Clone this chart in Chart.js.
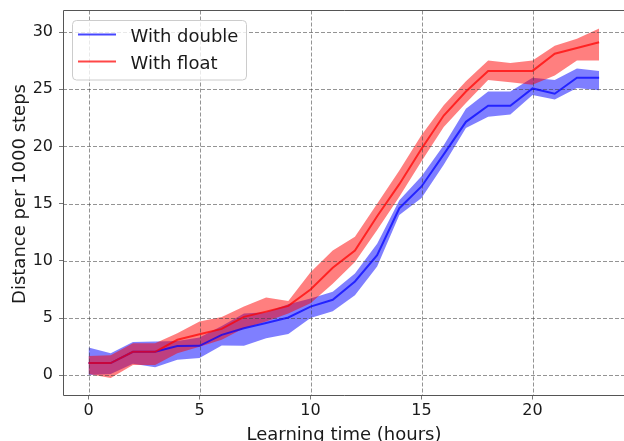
<!DOCTYPE html>
<html><head><meta charset="utf-8">
<script src="https://cdn.jsdelivr.net/npm/chart.js@4.4.0/dist/chart.umd.min.js"></script>
<style>html,body{margin:0;padding:0;background:#fff;overflow:hidden}canvas{display:block}</style>
</head><body>
<canvas id="c" width="624" height="441"></canvas>
<script>
const hours = [0,1,2,3,4,5,6,7,8,9,10,11,12,13,14,15,16,17,18,19,20,21,22,23];
const blueMean  = [1.06,1.06,2.05,2.05,2.55,2.57,3.53,4.1,4.57,5.05,6.0,6.6,8.2,10.5,14.6,16.5,19.3,22.15,23.55,23.55,25.07,24.6,26.0,26.0];
const blueUpper = [2.42,1.93,2.9,2.94,3.0,3.3,4.3,5.4,5.5,6.2,6.7,7.3,8.9,11.5,15.3,17.4,20.1,23.3,24.8,24.8,26.0,25.8,26.8,26.6];
const blueLower = [0.03,0.1,1.0,0.7,1.35,1.5,2.6,2.57,3.24,3.6,5.0,5.6,7.0,9.5,14.0,15.5,18.4,21.6,22.6,22.8,24.5,24.1,25.1,24.9];
const redMean   = [1.06,1.06,2.05,2.05,3.1,3.58,4.05,5.1,5.56,6.06,7.5,9.4,10.9,13.9,16.7,19.8,22.7,24.8,26.6,26.6,26.6,28.1,28.6,29.1];
const redUpper  = [1.69,1.75,2.8,2.8,3.67,4.7,5.1,6.0,6.8,6.5,9.0,10.9,12.1,15.0,17.9,21.0,23.6,25.7,27.5,27.3,27.5,28.8,29.4,30.3];
const redLower  = [0.12,-0.25,0.9,0.9,1.93,2.5,3.1,4.1,4.7,5.4,6.3,8.0,9.9,12.7,15.6,18.7,21.7,23.8,25.8,25.6,25.4,26.2,27.5,27.5];
const xTicks = [0,5,10,15,20];
const yTicks = [0,5,10,15,20,25,30];
const seriesNames = ['With double','With float'];
const xTitle = 'Learning time (hours)';
const yTitle = 'Distance per 1000 steps';

const FONT = "'DejaVu Sans', sans-serif";
const TEXT = '#1a1a1a';
const BLUE_LINE = 'rgba(0,0,255,0.72)';
const RED_LINE = 'rgba(255,0,0,0.72)';
const BLUE_FILL = 'rgba(0,0,255,0.5)';
const RED_FILL = 'rgba(255,0,0,0.5)';
const pts = arr => arr.map((v,i)=>({x:hours[i], y:v}));

const band = (data, fill, color, order) => ({data: pts(data), fill, backgroundColor: color, borderWidth: 0, pointRadius: 0, tension: 0, order});
const line = (data, color, order) => ({data: pts(data), fill: false, borderColor: color, borderWidth: 2, pointRadius: 0, tension: 0, order});

const gridOverFills = {
  id: 'gridOverFills',
  afterDatasetDraw(chart, args) {
    if (args.index !== 4) return;
    const {ctx, chartArea: a, scales: {x, y}} = chart;
    ctx.save();
    ctx.beginPath(); ctx.rect(a.left, a.top, a.right - a.left, a.bottom - a.top); ctx.clip();
    ctx.strokeStyle = 'rgba(60,60,60,0.55)'; ctx.lineWidth = 1; ctx.setLineDash([4, 2]);
    xTicks.forEach(v => { const p = Math.round(x.getPixelForValue(v)) + 0.5; ctx.beginPath(); ctx.moveTo(p, a.top); ctx.lineTo(p, a.bottom); ctx.stroke(); });
    yTicks.forEach(v => { const p = Math.round(y.getPixelForValue(v)) + 0.5; ctx.beginPath(); ctx.moveTo(a.left, p); ctx.lineTo(a.right, p); ctx.stroke(); });
    ctx.restore();
  }
};

const frameAndLegend = {
  id: 'frameAndLegend',
  afterDraw(chart) {
    const {ctx, chartArea: a} = chart;
    ctx.save();
    ctx.strokeStyle = '#555'; ctx.lineWidth = 1; ctx.setLineDash([]);
    ctx.beginPath();
    ctx.moveTo(a.right + 1, a.top); ctx.lineTo(a.left + 0.5, a.top); ctx.lineTo(a.left + 0.5, a.bottom); ctx.lineTo(a.right + 1, a.bottom);
    ctx.stroke();
    ctx.fillStyle = TEXT; ctx.font = '18px ' + FONT; ctx.textAlign = 'center'; ctx.textBaseline = 'alphabetic';
    ctx.fillText(xTitle, (a.left + 625) / 2, 440);
    ctx.save(); ctx.translate(24.5, 194); ctx.rotate(-Math.PI / 2); ctx.fillText(yTitle, 0, 0); ctx.restore();
    const bx = 72.5, by = 20.5, bw = 174, bh = 59.5, r = 4;
    ctx.beginPath();
    ctx.moveTo(bx + r, by); ctx.lineTo(bx + bw - r, by); ctx.arcTo(bx + bw, by, bx + bw, by + r, r);
    ctx.lineTo(bx + bw, by + bh - r); ctx.arcTo(bx + bw, by + bh, bx + bw - r, by + bh, r);
    ctx.lineTo(bx + r, by + bh); ctx.arcTo(bx, by + bh, bx, by + bh - r, r);
    ctx.lineTo(bx, by + r); ctx.arcTo(bx, by, bx + r, by, r); ctx.closePath();
    ctx.fillStyle = 'rgba(255,255,255,0.8)'; ctx.fill();
    ctx.strokeStyle = '#cccccc'; ctx.stroke();
    const items = [[seriesNames[0], BLUE_LINE, 34.5], [seriesNames[1], RED_LINE, 61.5]];
    items.forEach(([label, col, yy]) => {
      ctx.strokeStyle = col; ctx.lineWidth = 2;
      ctx.beginPath(); ctx.moveTo(78, yy); ctx.lineTo(116, yy); ctx.stroke();
      ctx.fillStyle = TEXT; ctx.textAlign = 'left'; ctx.textBaseline = 'alphabetic'; ctx.font = '18px ' + FONT;
      ctx.fillText(label, 130.5, yy + 7);
    });
    ctx.restore();
  }
};

new Chart(document.getElementById('c'), {
  type: 'line',
  data: {
    datasets: [
      band(blueUpper, '+1', BLUE_FILL, 6),
      band(blueLower, false, BLUE_FILL, 5),
      line(blueMean, BLUE_LINE, 2),
      band(redUpper, '+1', RED_FILL, 4),
      band(redLower, false, RED_FILL, 3),
      line(redMean, RED_LINE, 1)
    ]
  },
  options: {
    responsive: false, devicePixelRatio: 1, animation: false,
    layout: {padding: {top: 10.5, right: 0, left: 0, bottom: 0}},
    plugins: {legend: {display: false}, tooltip: {enabled: false}},
    scales: {
      x: {
        type: 'linear', min: -1.15, max: 24.12,
        afterBuildTicks: s => { s.ticks = xTicks.map(v => ({value: v})); },
        afterFit: s => { s.height = 45.5; s.paddingLeft = 0; s.paddingRight = 0; s.paddingTop = 0; s.paddingBottom = 0; },
        ticks: {font: {family: FONT, size: 16}, color: TEXT, padding: 2, maxRotation: 0, autoSkip: false},
        grid: {drawOnChartArea: false, drawTicks: true, tickLength: 4, tickColor: '#777', color: '#777'},
        border: {display: false}
      },
      y: {
        type: 'linear', min: -1.77, max: 31.88,
        afterBuildTicks: s => { s.ticks = yTicks.map(v => ({value: v})); },
        afterFit: s => { s.width = 63; s.paddingLeft = 0; s.paddingRight = 0; s.paddingTop = 0; s.paddingBottom = 0; },
        ticks: {font: {family: FONT, size: 16}, color: TEXT, padding: 6, autoSkip: false},
        grid: {drawOnChartArea: false, drawTicks: true, tickLength: 4, tickColor: '#777', color: '#777'},
        border: {display: false}
      }
    }
  },
  plugins: [gridOverFills, frameAndLegend]
});
</script>
</body></html>
